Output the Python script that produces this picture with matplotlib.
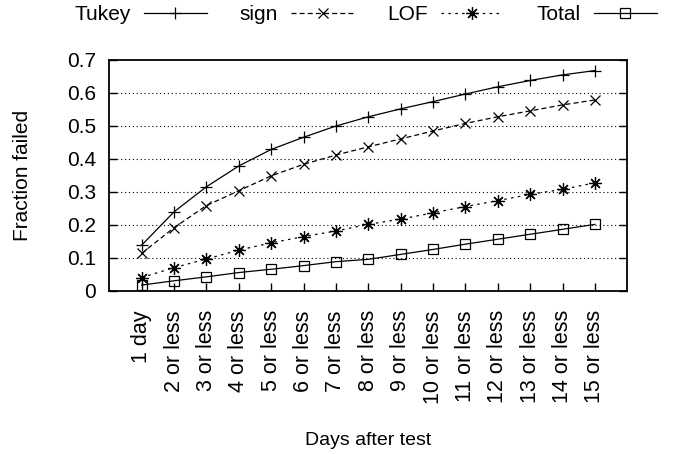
import matplotlib
matplotlib.use("Agg")
import matplotlib.pyplot as plt

plt.rcParams['font.family'] = ['Liberation Sans', 'DejaVu Sans']

categories = ["1 day"] + [f"{i} or less" for i in range(2, 16)]
tukey = [0.138, 0.239, 0.315, 0.378, 0.428, 0.465, 0.499, 0.527, 0.551, 0.573, 0.596, 0.618, 0.637, 0.654, 0.667]
sign = [0.113, 0.191, 0.258, 0.303, 0.348, 0.383, 0.411, 0.436, 0.460, 0.484, 0.507, 0.527, 0.545, 0.563, 0.578]
lof = [0.040, 0.070, 0.096, 0.123, 0.145, 0.164, 0.181, 0.201, 0.217, 0.236, 0.255, 0.273, 0.292, 0.307, 0.327]
total = [0.017, 0.030, 0.042, 0.055, 0.065, 0.076, 0.088, 0.095, 0.110, 0.125, 0.141, 0.156, 0.171, 0.186, 0.201]
yticks = [0, 0.1, 0.2, 0.3, 0.4, 0.5, 0.6, 0.7]
ytick_labels = ["0", "0.1", "0.2", "0.3", "0.4", "0.5", "0.6", "0.7"]

W, H = 680, 454
fig = plt.figure(figsize=(6.8, 4.54), dpi=100)
ax = fig.add_axes([109.3 / W, 1 - 290.7 / H, (627.3 - 109.3) / W, (290.7 - 59.7) / H])

x = list(range(1, len(categories) + 1))
lw = 0.9
ax.plot(x, tukey, color='black', lw=lw, marker='+', ms=9, mew=0.9, label='Tukey')
ax.plot(x, sign, color='black', lw=lw, ls=(0, (4, 2.5)), marker='x', ms=7, mew=0.9, label='sign')
ax.plot(x, lof, color='black', lw=lw, ls=(0, (2, 3.5)), marker=(8, 2, 0), ms=9, mew=0.9, label='LOF')
ax.plot(x, total, color='black', lw=lw, marker='s', ms=7.5, mfc='none', mew=0.9, label='Total')

ax.set_xlim(0, 16)
ax.set_ylim(0, 0.7)
ax.set_xticks(x)
ax.set_xticklabels(categories, rotation=90, fontsize=15.5)
ax.set_yticks(yticks)
ax.set_yticklabels(ytick_labels, fontsize=15)
ax.tick_params(axis='x', direction='in', length=6, width=1, top=False, pad=14)
ax.tick_params(axis='y', direction='in', length=6, width=1, right=True, pad=9.6)
for yv in yticks[1:-1]:
    ax.axhline(yv, color='black', lw=0.8, ls=(0, (1, 2.5)), zorder=0)
for s in ax.spines.values():
    s.set_linewidth(1.3)

ax.set_ylabel("Fraction failed", fontsize=15)
ax.yaxis.label.set_va('center')
ax.yaxis.set_label_coords((23 - 109.3) / 518, 0.5)
ax.set_xlabel("Days after test", fontsize=14)
ax.xaxis.set_label_coords(0.5, (290.7 - 432) / 231)

leg = fig.legend(loc='upper center', bbox_to_anchor=(365.5 / W, 0.989), ncol=4, frameon=False,
                 markerfirst=False, fontsize=15, handlelength=3.0, columnspacing=1.6,
                 handletextpad=0.63, borderpad=0, borderaxespad=0)

fig.savefig("out.png", dpi=100)
